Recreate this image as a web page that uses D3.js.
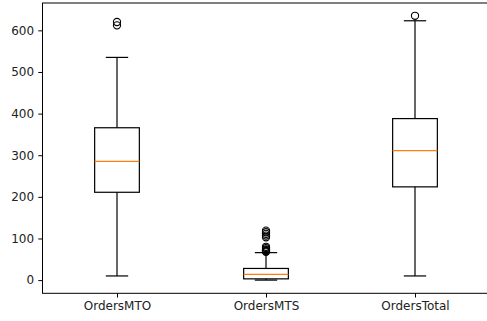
<!DOCTYPE html>
<html>
<head>
<meta charset="utf-8">
<script src="https://cdn.jsdelivr.net/npm/d3@7"></script>
<style>
  html, body { margin: 0; padding: 0; background: #fff; }
  svg { display: block; }
  text { font-family: "DejaVu Sans", sans-serif; }
</style>
</head>
<body>
<svg id="chart" width="487" height="321"></svg>
<script>
// Box plot summaries for each order series
const categories = ["OrdersMTO", "OrdersMTS", "OrdersTotal"];
const whiskerLow  = [10, 0, 10];
const q1          = [211, 3, 224];
const median      = [285, 14, 311];
const q3          = [366, 28, 388];
const whiskerHigh = [535, 66, 623];
const fliers = [
  [612, 620],
  [68, 70, 72, 74, 77, 80, 103, 107, 111, 115, 119],
  [635]
];
const yTicks = [0, 100, 200, 300, 400, 500, 600];

const svg = d3.select("#chart");
const plotLeft = 42.5, plotRight = 489.5, plotTop = 3, plotBottom = 293.3;

const x = d3.scaleLinear().domain([0.5, 3.5]).range([plotLeft, plotRight]);
const y = d3.scaleLinear().domain([-31.7, 665.7]).range([plotBottom, plotTop]);

const boxW = x(1.3) - x(1);   // full box width (0.3 data units)
const capW = boxW / 2;

const data = categories.map((c, i) => ({
  name: c, pos: i + 1,
  lo: whiskerLow[i], q1: q1[i], med: median[i], q3: q3[i], hi: whiskerHigh[i],
  fliers: fliers[i]
}));

const g = svg.append("g");
const lw = 1.2;

data.forEach(d => {
  const cx = x(d.pos);
  // whiskers
  g.append("line").attr("x1", cx).attr("x2", cx).attr("y1", y(d.q1)).attr("y2", y(d.lo))
    .attr("stroke", "#000").attr("stroke-width", lw);
  g.append("line").attr("x1", cx).attr("x2", cx).attr("y1", y(d.q3)).attr("y2", y(d.hi))
    .attr("stroke", "#000").attr("stroke-width", lw);
  // caps
  [d.lo, d.hi].forEach(v => {
    g.append("line").attr("x1", cx - capW / 2).attr("x2", cx + capW / 2)
      .attr("y1", y(v)).attr("y2", y(v))
      .attr("stroke", "#000").attr("stroke-width", lw);
  });
  // box
  g.append("rect").attr("x", cx - boxW / 2).attr("width", boxW)
    .attr("y", y(d.q3)).attr("height", y(d.q1) - y(d.q3))
    .attr("fill", "none").attr("stroke", "#000").attr("stroke-width", lw);
  // median
  g.append("line").attr("x1", cx - boxW / 2).attr("x2", cx + boxW / 2)
    .attr("y1", y(d.med)).attr("y2", y(d.med))
    .attr("stroke", "#ff7f0e").attr("stroke-width", lw);
  // outliers
  g.selectAll(null).data(d.fliers).enter().append("circle")
    .attr("cx", cx).attr("cy", v => y(v)).attr("r", 3.6)
    .attr("fill", "none").attr("stroke", "#000").attr("stroke-width", 1.1);
});

// axes
const yAxis = d3.axisLeft(y).tickValues(yTicks).tickSize(4.2).tickPadding(4.2);
const yg = svg.append("g").attr("transform", `translate(${plotLeft},0)`).call(yAxis);
const xAxis = d3.axisBottom(x).tickValues([1, 2, 3]).tickFormat((d, i) => categories[i])
  .tickSize(4.2).tickPadding(4.2);
const xg = svg.append("g").attr("transform", `translate(0,${plotBottom})`).call(xAxis);

[yg, xg].forEach(a => {
  a.select(".domain").remove();
  a.selectAll(".tick line").attr("stroke", "#000").attr("stroke-width", 1);
  a.selectAll(".tick text").attr("fill", "#222").style("font-size", "12px")
    .style("font-family", "'DejaVu Sans', sans-serif");
});

// spines
svg.append("rect").attr("x", plotLeft).attr("y", plotTop)
  .attr("width", plotRight - plotLeft).attr("height", plotBottom - plotTop)
  .attr("fill", "none").attr("stroke", "#000").attr("stroke-width", 1);
</script>
</body>
</html>
